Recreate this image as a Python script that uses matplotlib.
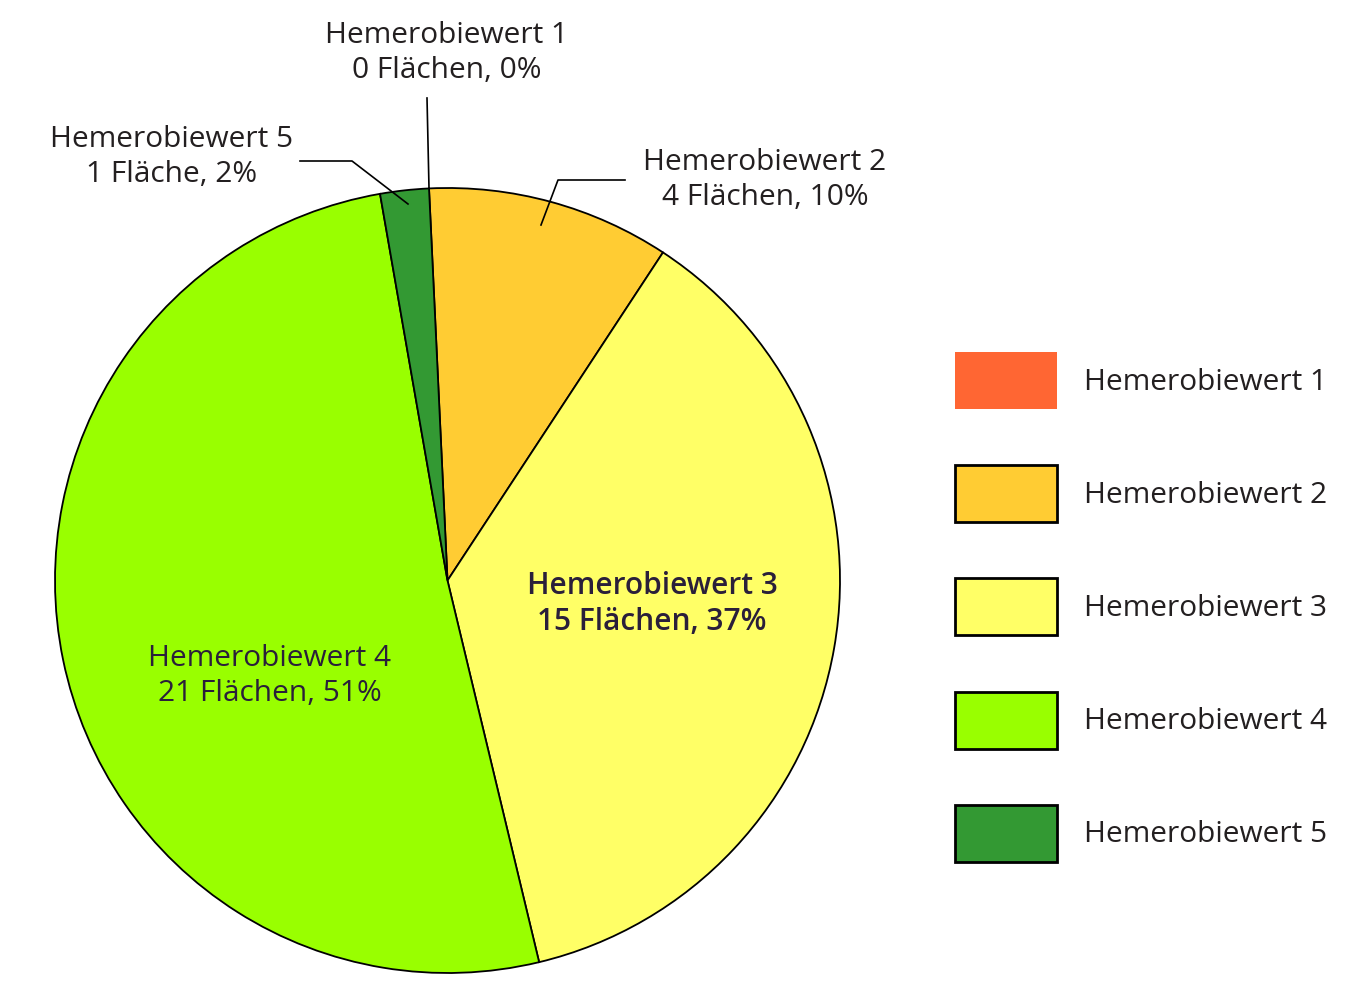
import matplotlib.pyplot as plt
from matplotlib.patches import Rectangle

plt.rcParams['font.family'] = ['Open Sans', 'DejaVu Sans']

labels = ["Hemerobiewert 1", "Hemerobiewert 2", "Hemerobiewert 3",
          "Hemerobiewert 4", "Hemerobiewert 5"]
counts = [0, 4, 15, 21, 1]
percents = [0, 10, 37, 51, 2]
colors = ["#ff6633", "#ffcc33", "#ffff66", "#99ff00", "#339933"]
text_col = "#231f20"

W, H = 1363, 992
fig = plt.figure(figsize=(W / 100, H / 100), dpi=100)
ax = fig.add_axes([0, 0, 1, 1])

def py(y):
    # pixel row (from top) -> axes y
    return H - y

# pie
cx, cy, r = 447.5, py(580.5), 392.5
ax.pie(percents, colors=colors, startangle=92.7, counterclock=False,
       center=(cx, cy), radius=r, frame=True,
       wedgeprops=dict(edgecolor="black", linewidth=1.3))
ax.set_xlim(0, W)
ax.set_ylim(0, H)
ax.axis("off")

def lab(i):
    word = "Fläche" if counts[i] == 1 else "Flächen"
    return f"{labels[i]}\n{counts[i]} {word}, {percents[i]}%"

fs = 21.5
ls = 1.3
# outside labels with leader lines
ax.text(447, py(53), lab(0), ha="center", va="center", fontsize=fs,
        color=text_col, linespacing=ls)
ax.plot([427, 429], [py(98), py(188)], color="black", lw=1.2)

ax.text(172, py(157), lab(4), ha="center", va="center", fontsize=fs,
        color=text_col, linespacing=ls)
ax.plot([300, 352, 408], [py(161), py(161), py(204)], color="black", lw=1.2)

ax.text(765, py(180), lab(1), ha="center", va="center", fontsize=fs,
        color=text_col, linespacing=ls)
ax.plot([625, 558, 541], [py(180), py(180), py(225)], color="black", lw=1.2)

# inside labels
ax.text(652, py(604), lab(2), ha="center", va="center", fontsize=fs,
        color="#2a1f3a", linespacing=ls, fontweight="semibold")
ax.text(270, py(676), lab(3), ha="center", va="center", fontsize=fs,
        color="#2a1f3a", linespacing=ls)

# legend
for i, (name, c) in enumerate(zip(labels, colors)):
    top = 352 + i * 113.2
    ax.add_patch(Rectangle((955, py(top + 57)), 102, 57, facecolor=c,
                           edgecolor="none" if i == 0 else "black",
                           linewidth=2))
    ax.text(1084, py(top + 30), name, ha="left", va="center",
            fontsize=fs, color=text_col)

fig.savefig("out.png", dpi=100)
